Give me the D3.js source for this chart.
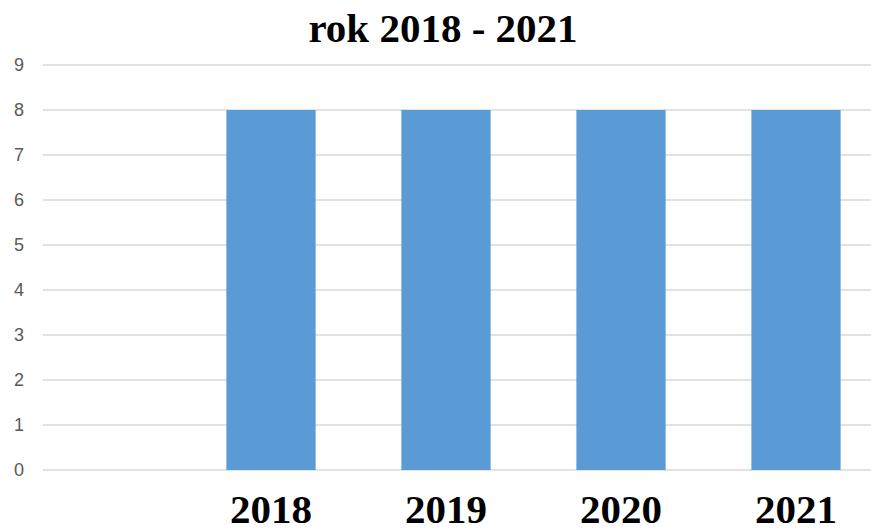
<!DOCTYPE html>
<html><head><meta charset="utf-8">
<script src="https://cdn.jsdelivr.net/npm/d3@7"></script>
<style>body{margin:0;background:#fff}svg{display:block}</style>
</head><body>
<svg id="c" width="871" height="532"></svg>
<script>
const title = "rok 2018 - 2021";
const categories = ["", "2018", "2019", "2020", "2021"];
const values = [null, 8, 8, 8, 8];
const yTicks = [0,1,2,3,4,5,6,7,8,9];

const svg = d3.select("#c");
const gridLeft = 43, gridRight = 871;
const x = d3.scaleBand().domain(categories).range([8.5, 883.5]).paddingInner(0.49).paddingOuter(0.245);
const y = d3.scaleLinear().domain([0, 9]).range([470, 65]);

// gridlines
svg.append("g").selectAll("line").data(yTicks).join("line")
  .attr("x1", gridLeft).attr("x2", gridRight)
  .attr("y1", d => y(d)).attr("y2", d => y(d))
  .attr("stroke", "#d9d9d9").attr("stroke-width", 1.5);

// y labels
const yAxis = d3.axisLeft(y).tickValues(yTicks).tickSize(0).tickPadding(0);
const ga = svg.append("g").attr("transform", "translate(24,0)").call(yAxis);
ga.select(".domain").remove();
ga.selectAll("text").attr("fill", "#595959").attr("font-family", "Liberation Sans, Arial, sans-serif").attr("font-size", 18);

// bars
const data = categories.map((c, i) => ({c, v: values[i]})).filter(d => d.v != null);
svg.append("g").selectAll("rect").data(data).join("rect")
  .attr("x", d => x(d.c)).attr("width", x.bandwidth())
  .attr("y", d => y(d.v)).attr("height", d => y(0) - y(d.v))
  .attr("fill", "#5b9bd5");

// x labels
const xAxis = d3.axisBottom(x).tickSize(0).tickPadding(0);
const gx = svg.append("g").attr("transform", "translate(0,523)").call(xAxis);
gx.select(".domain").remove();
gx.selectAll("text").attr("dy", null).attr("fill", "#000").attr("font-family", "Liberation Serif, Times New Roman, serif")
  .attr("font-weight", "bold").attr("font-size", 41);

// title
svg.append("text").attr("x", 443).attr("y", 42).attr("text-anchor", "middle")
  .attr("font-family", "Liberation Serif, Times New Roman, serif").attr("font-weight", "bold")
  .attr("font-size", 41).attr("fill", "#000").text(title);
</script>
</body></html>
